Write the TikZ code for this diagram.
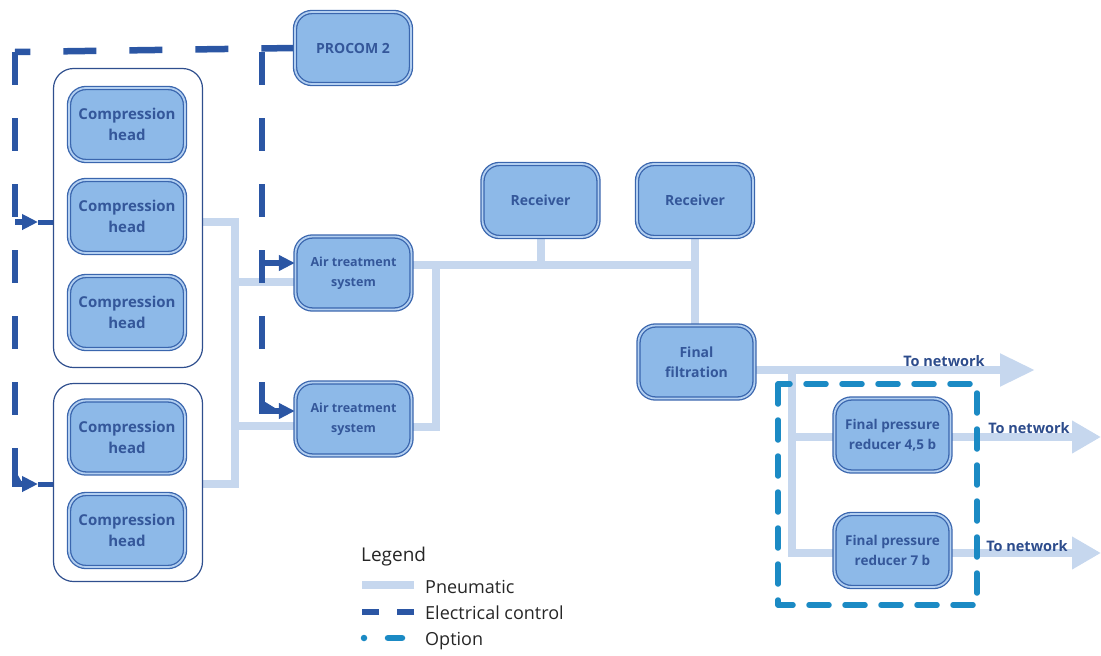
\documentclass[tikz,border=0pt]{standalone}
\usepackage{fontspec}
\setmainfont{Open Sans}
\usetikzlibrary{arrows.meta,backgrounds}
\definecolor{boxfill}{HTML}{8DB9E8}
\definecolor{boxline}{HTML}{3A66AE}
\definecolor{boxgap}{HTML}{B3CFF0}
\definecolor{boxtext}{HTML}{34579A}
\definecolor{grpline}{HTML}{2F4F8E}
\definecolor{pneucol}{HTML}{C6D7EE}
\definecolor{eleccol}{HTML}{2B56A4}
\definecolor{optcol}{HTML}{1B8AC4}
\definecolor{netcol}{HTML}{2D4C8C}
\tikzset{
	unit/.style={draw=boxline, double=boxgap, double distance=1.8pt, line width=1.3pt, fill=boxfill,
		rounded corners=17pt, text=boxtext, align=center, inner sep=1pt,
		font=\bfseries\fontsize{14}{20}\selectfont, minimum width=116pt, minimum height=73pt},
	group/.style={draw=grpline, line width=1.2pt, fill=white, rounded corners=20pt, minimum width=149pt},
	pneu/.style={draw=pneucol, line width=8pt},
	elec/.style={draw=eleccol, line width=6.5pt, dash pattern=on 33pt off 33pt},
	elecarrow/.style={draw=eleccol, fill=eleccol, line width=6pt, -{Triangle[length=16pt,width=15pt]}},
	opt/.style={draw=optcol, line width=5.5pt, line cap=round, dash pattern=on 20pt off 16pt},
	nettip/.style={-{Triangle[length=#1,width=31pt]}},
	netlabel/.style={text=netcol, font=\bfseries\fontsize{14.5}{18}\selectfont},
	legtext/.style={anchor=west, text=black!85, inner sep=0pt, font=\fontsize{18}{22}\selectfont}
}
\begin{document}
\begin{tikzpicture}[x=1pt,y=-1pt,line join=round]
	\useasboundingbox (0,0) rectangle (1101,656);
	% units
	\node[group,minimum height=299pt] (grpA) at (128,218) {};
	\node[group,minimum height=198pt] (grpB) at (128,482.5) {};
	\foreach \n/\y in {1/124.5,2/216.5,3/312.5,4/437,5/530.5}
		\node[unit,font=\bfseries\fontsize{15}{21}\selectfont] (head\n) at (127,\y) {Compression\\head};
	\node[unit,minimum height=72pt] (procom) at (353,48) {PROCOM 2};
	\node[unit,font=\bfseries\fontsize{12.5}{20}\selectfont] (airA) at (353.5,273) {Air treatment\\system};
	\node[unit,font=\bfseries\fontsize{12.5}{20}\selectfont] (airB) at (353.5,419) {Air treatment\\system};
	\node[unit] (recA) at (540.5,200.5) {Receiver};
	\node[unit] (recB) at (695,200.5) {Receiver};
	\node[unit] (filt) at (696.5,362) {Final\\filtration};
	\node[unit,font=\bfseries\fontsize{13.5}{20}\selectfont] (redA) at (892.5,435) {Final pressure\\reducer 4,5 b};
	\node[unit,font=\bfseries\fontsize{13.5}{20}\selectfont] (redB) at (892.5,550.5) {Final pressure\\reducer 7 b};
	% network labels
	\node[netlabel] (net1) at (944,361) {To network};
	\node[netlabel] (net2) at (1029,428) {To network};
	\node[netlabel] (net3) at (1027,546) {To network};
	\begin{scope}[on background layer]
		% pneumatic
		\coordinate (jA) at (235,222); \coordinate (jB) at (235,484);
		\coordinate (mA) at (436,265); \coordinate (mR) at (695,265);
		\coordinate (bT) at (792,370); \coordinate (bB) at (792,553);
		\draw[pneu] (grpA.east |- jA) -- (jA) -- (jB) -- (grpB.east |- jB);
		\draw[pneu] (235,282) -- (airA.west |- 0,282);
		\draw[pneu] (235,426) -- (airB.west |- 0,426);
		\draw[pneu] (airA.east |- mA) -- (mR);
		\draw[pneu] (airB.east |- 0,427) -- (436,427) -- (mA);
		\draw[pneu] (recA.south) -- (recA.south |- mR);
		\draw[pneu] (recB.south) -- (filt.north -| recB.south);
		\draw[pneu,nettip=35pt] (filt.east |- bT) -- (1035,370);
		\draw[pneu] (bT) -- (bB) -- (redB.west |- bB);
		\draw[pneu] (792,437) -- (redA.west |- 0,437);
		\draw[pneu,nettip=29pt] (redA.east |- 0,437) -- (1101,437);
		\draw[pneu,nettip=29pt] (redB.east |- bB) -- (1101,553);
		% electrical
		\coordinate (eTL) at (15,52); \coordinate (eTR) at (262,52);
		\draw[elec] (procom.west) -- (eTL);
		\draw[elec] (eTL) -- (15,484);
		\draw[elec] (eTR) -- (262,411);
		\draw[elecarrow] (15,222) -- (38,222);
		\draw[eleccol,line width=5pt] (38,222) -- (grpA.west |- 0,222);
		\draw[elecarrow] (15,470) -- (15,484) -- (38,484);
		\draw[eleccol,line width=5pt] (38,484) -- (grpB.west |- 0,484);
		\draw[elecarrow] (262,263) -- (airA.west |- 0,263);
		\draw[elecarrow] (262,400) -- (262,411) -- (airB.west |- 0,411);
	\end{scope}
	% option
	\draw[opt] (778,384) rectangle (977,605);
	% legend
	\node[legtext,font=\fontsize{19}{22}\selectfont] (lgd) at (361,557) {Legend};
	\node[legtext] (lgP) at (425,587) {Pneumatic};
	\node[legtext] (lgE) at (425,613) {Electrical control};
	\node[legtext] (lgO) at (425,641) {Option};
	\draw[pneu] ([xshift=-11pt,yshift=2pt]lgP.west) -- ++(-52,0);
	\draw[elec,dash pattern=on 17pt off 18pt] ([xshift=-11pt,yshift=1pt]lgE.west) -- ++(-52,0);
	\draw[opt,line width=6.5pt,dash pattern=on 0pt off 24pt on 14pt off 7pt on 0pt off 20pt] ([xshift=-61pt,yshift=3pt]lgO.west) -- ++(45,0);
\end{tikzpicture}
\end{document}
